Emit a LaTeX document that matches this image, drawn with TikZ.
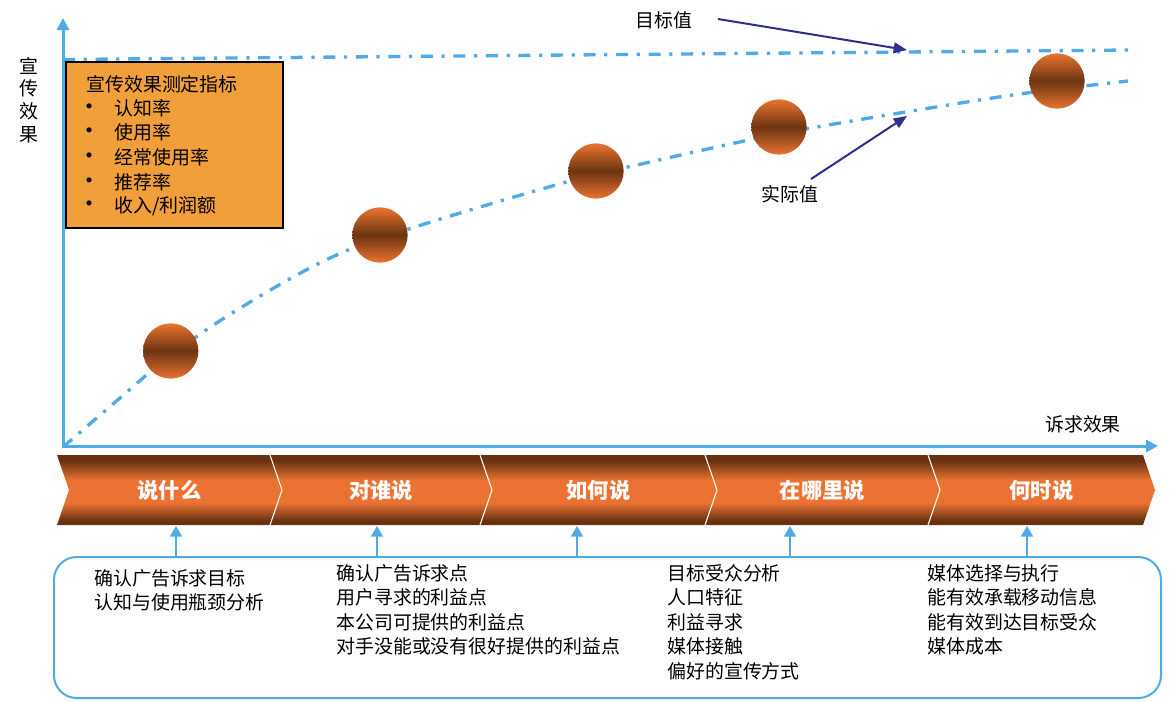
\documentclass[tikz,border=0pt]{standalone}
\usepackage{fontspec}
\setmainfont{Noto Sans CJK SC}
\usetikzlibrary{arrows.meta,fit}
\definecolor{axisblue}{RGB}{79,171,232}
\definecolor{navyarr}{RGB}{46,46,140}
\definecolor{legfill}{RGB}{241,159,58}
\definecolor{chevdark}{RGB}{104,50,18}
\definecolor{chevlight}{RGB}{235,114,50}
\definecolor{balldark}{RGB}{108,52,18}
\definecolor{balllight}{RGB}{234,116,48}
\pgfdeclareverticalshading{chevshade}{100bp}{color(0bp)=(chevdark); color(25bp)=(chevdark); color(28bp)=(chevdark); color(41bp)=(chevlight); color(57bp)=(chevlight); color(71bp)=(chevdark); color(75bp)=(chevdark); color(100bp)=(chevdark)}
\newcommand{\mybul}{\makebox[27.75pt][l]{\fontsize{18}{18}\selectfont •}}
\begin{document}
\begin{tikzpicture}[x=0.75pt,y=-0.75pt,
 txt/.style={inner sep=0pt, font=\fontsize{14.2}{18}\selectfont},
 chevlabel/.style={inner sep=0pt, text=white, font=\fontsize{16}{20}\selectfont\bfseries},
 axisline/.style={draw=axisblue, line width=2.25pt, -{Triangle[length=9pt,width=9pt]}},
 dashdot/.style={draw=axisblue, line width=2.5pt, dash pattern=on 9pt off 6.5pt on 2.4pt off 6.5pt},
 ball/.style={circle, inner sep=0pt, minimum size=41.5pt, top color=balllight, bottom color=balllight, middle color=balldark},
 navyarrow/.style={draw=navyarr, line width=1.5pt, -{Triangle[length=10pt,width=8pt]}},
 uparrow/.style={draw=axisblue, line width=1.5pt, -{Triangle[length=8pt,width=9pt]}},
 legbox/.style={draw=black, line width=1.5pt, fill=legfill, inner sep=0pt},
 infobox/.style={draw=axisblue, line width=1.5pt, rounded corners=17pt, inner sep=0pt},
]
\useasboundingbox (0,0) rectangle (1174,701);

% target and actual lines
\draw[dashdot] (63,59.5) -- (1130,50);
\draw[dashdot] plot[smooth, tension=0.6] coordinates {(63,447) (120,398) (170,356) (237,310) (330,258) (415,227) (563,183) (650,162) (779,134) (930,108) (1027,93) (1128,81)};

% axes
\draw[axisline] (63,447) -- (63,18);
\draw[axisline] (62,446) -- (1158,446);
\node[txt, align=center, font=\fontsize{14.2}{16.9}\selectfont] (ylab) at (29,100) {宣\\传\\效\\果};
\node[txt] (xlab) at (1083,424) {诉求效果};

% balls
\node[ball] (b1) at (170.7,351) {};
\node[ball] (b2) at (380,235) {};
\node[ball] (b3) at (596,171) {};
\node[ball] (b4) at (779,127) {};
\node[ball] (b5) at (1057,81) {};

% legend
\node[legbox, fit={(66,61.5) (283,228)}] (leg) {};
\node[txt, anchor=west] (legtitle) at (86,84) {宣传效果测定指标};
\foreach \t [count=\i] in {认知率, 使用率, 经常使用率, 推荐率, 收入/利润额} {
  \node[txt, anchor=west] (leg\i) at (77,83.5+24.6*\i) {\mybul\t};
}

% annotations
\node[txt] (tgt) at (664,20) {目标值};
\node[txt] (act) at (790,194) {实际值};
\coordinate (tgtA) at (718,19);
\coordinate (tgtB) at (907,50);
\coordinate (actA) at (811,179);
\coordinate (actB) at (907,116);
\draw[navyarrow] (tgtA) -- (tgtB);
\draw[navyarrow] (actA) -- (actB);

% chevrons
\foreach \xl/\xr/\lab [count=\i] in {57/270/说什么, 270/480/对谁说, 480/705/如何说, 705/928/在哪里说, 928/1143/何时说} {
  \shade[shading=chevshade] (\xl,455) -- (\xr,455) -- (\xr+12,490) -- (\xr,525) -- (\xl,525) -- (\xl+12,490) -- cycle;
  \node[chevlabel] (ch\i) at ({(\xl+\xr)/2+6},490) {\lab};
}
\foreach \x in {270,480,705,928} {
  \draw[white, line width=0.8pt] (\x,455) -- (\x+12,490) -- (\x,525);
}

% info box
\node[infobox, fit={(54,557) (1161,698)}] (info) {};
\foreach \x [count=\i] in {176,377,577,790,1027} {
  \coordinate (tip\i) at (\x,526);
  \draw[uparrow] (info.north -| tip\i) -- (tip\i);
}
\foreach \t [count=\i] in {确认广告诉求目标, 认知与使用瓶颈分析} {
  \node[txt, anchor=west] (ca\i) at (94,554+24*\i) {\t};
}
\foreach \t [count=\i] in {确认广告诉求点, 用户寻求的利益点, 本公司可提供的利益点, 对手没能或没有很好提供的利益点} {
  \node[txt, anchor=west] (cb\i) at (336,548.5+24.5*\i) {\t};
}
\foreach \t [count=\i] in {目标受众分析, 人口特征, 利益寻求, 媒体接触, 偏好的宣传方式} {
  \node[txt, anchor=west] (cc\i) at (667,548.5+24.5*\i) {\t};
}
\foreach \t [count=\i] in {媒体选择与执行, 能有效承载移动信息, 能有效到达目标受众, 媒体成本} {
  \node[txt, anchor=west] (cd\i) at (927,548.5+24.5*\i) {\t};
}
\end{tikzpicture}
\end{document}
